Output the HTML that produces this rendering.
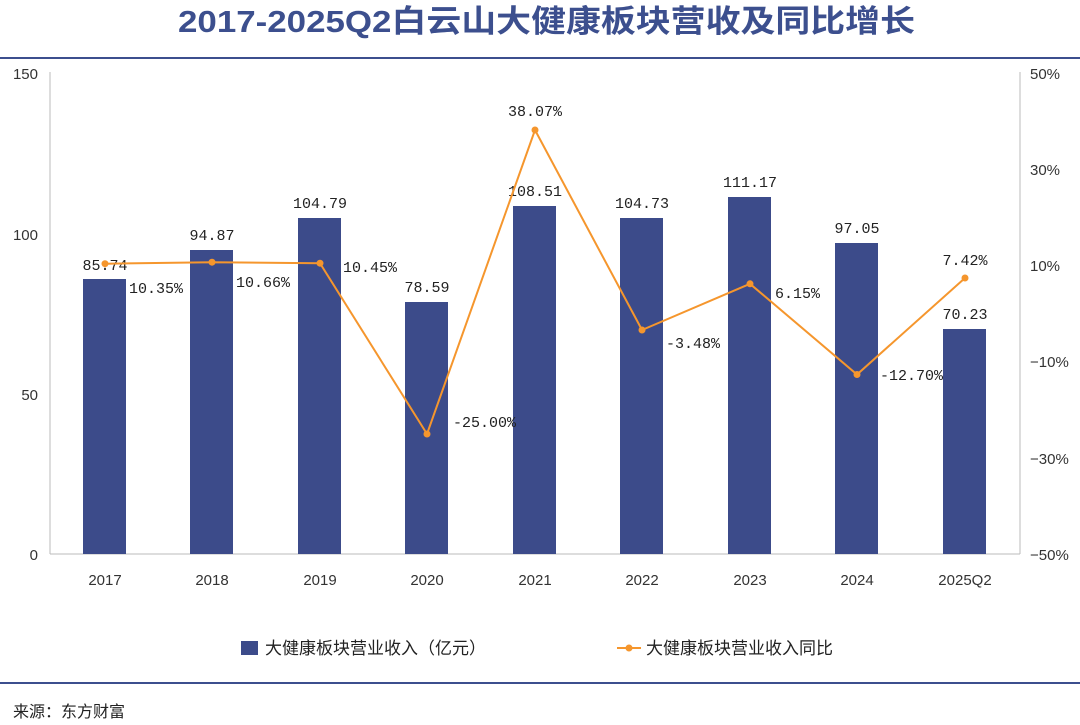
<!DOCTYPE html>
<html><head><meta charset="utf-8"><style>
body{margin:0;background:#fff;}
svg text{font-family:"Liberation Sans","Noto Sans CJK SC",sans-serif;}
.m{font-family:"Liberation Mono","Noto Sans CJK SC",monospace !important;font-size:15px;fill:#222;}
</style></head><body>
<svg width="1080" height="720" viewBox="0 0 1080 720" xmlns="http://www.w3.org/2000/svg">
<text x="178" y="32" textLength="737" lengthAdjust="spacingAndGlyphs" font-size="31" font-weight="bold" fill="#3c4f8e">2017-2025Q2白云山大健康板块营收及同比增长</text>
<line x1="0" y1="58" x2="1080" y2="58" stroke="#3c4f8e" stroke-width="2"/>
<line x1="0" y1="683" x2="1080" y2="683" stroke="#3c4f8e" stroke-width="2"/>
<line x1="50" y1="72" x2="50" y2="554" stroke="#bbb"/>
<line x1="1020" y1="72" x2="1020" y2="554" stroke="#bbb"/>
<line x1="50" y1="554" x2="1020" y2="554" stroke="#bbb"/>
<g font-size="15" fill="#333" text-anchor="end">
<text x="38" y="79">150</text><text x="38" y="240">100</text><text x="38" y="400">50</text><text x="38" y="560">0</text>
</g>
<g font-size="15" fill="#333" text-anchor="start">
<text x="1030" y="79">50%</text><text x="1030" y="175">30%</text><text x="1030" y="271">10%</text><text x="1030" y="367">−10%</text><text x="1030" y="464">−30%</text><text x="1030" y="560">−50%</text>
</g>
<g fill="#3c4b8a">
<rect x="83" y="279" width="43" height="275"/>
<rect x="190" y="250" width="43" height="304"/>
<rect x="298" y="218" width="43" height="336"/>
<rect x="405" y="302" width="43" height="252"/>
<rect x="513" y="206" width="43" height="348"/>
<rect x="620" y="218" width="43" height="336"/>
<rect x="728" y="197" width="43" height="357"/>
<rect x="835" y="243" width="43" height="311"/>
<rect x="943" y="329" width="43" height="225"/>
</g>
<g font-size="15" fill="#333" text-anchor="middle">
<text x="105" y="585">2017</text><text x="212" y="585">2018</text><text x="320" y="585">2019</text><text x="427" y="585">2020</text><text x="535" y="585">2021</text><text x="642" y="585">2022</text><text x="750" y="585">2023</text><text x="857" y="585">2024</text><text x="965" y="585">2025Q2</text>
</g>
<g class="m" text-anchor="middle">
<text class="m" x="105" y="270">85.74</text><text class="m" x="212" y="240">94.87</text><text class="m" x="320" y="208">104.79</text><text class="m" x="427" y="292">78.59</text><text class="m" x="535" y="196">108.51</text><text class="m" x="642" y="208">104.73</text><text class="m" x="750" y="187">111.17</text><text class="m" x="857" y="233">97.05</text><text class="m" x="965" y="319">70.23</text>
<text class="m" x="535" y="116">38.07%</text><text class="m" x="965" y="265">7.42%</text>
</g>
<polyline fill="none" stroke="#f5962d" stroke-width="2" points="105,263.7 212,262.2 320,263.2 427,434 535,130 642,330 750,283.8 857,374.5 965,278"/>
<g fill="#f5962d">
<circle cx="105" cy="263.7" r="3.5"/><circle cx="212" cy="262.2" r="3.5"/><circle cx="320" cy="263.2" r="3.5"/><circle cx="427" cy="434" r="3.5"/><circle cx="535" cy="130" r="3.5"/><circle cx="642" cy="330" r="3.5"/><circle cx="750" cy="283.8" r="3.5"/><circle cx="857" cy="374.5" r="3.5"/><circle cx="965" cy="278" r="3.5"/>
</g>
<g>
<text class="m" x="129" y="293">10.35%</text><text class="m" x="236" y="287">10.66%</text><text class="m" x="343" y="272">10.45%</text><text class="m" x="453" y="427">-25.00%</text><text class="m" x="666" y="348">-3.48%</text><text class="m" x="775" y="298">6.15%</text><text class="m" x="880" y="380">-12.70%</text>
</g>
<rect x="241" y="641" width="17" height="14" fill="#3c4b8a"/>
<text x="265" y="654" font-size="17" fill="#222">大健康板块营业收入（亿元）</text>
<line x1="617" y1="648" x2="641" y2="648" stroke="#f5962d" stroke-width="2"/>
<circle cx="629" cy="648" r="3.5" fill="#f5962d"/>
<text x="646" y="654" font-size="17" fill="#222">大健康板块营业收入同比</text>
<text x="13" y="717" font-size="16" fill="#222">来源：东方财富</text>
</svg>
</body></html>
